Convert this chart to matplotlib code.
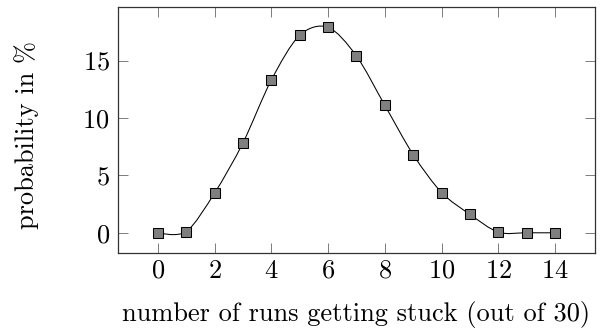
import matplotlib
matplotlib.use("Agg")
import matplotlib.pyplot as plt
import numpy as np
from matplotlib.path import Path
from matplotlib.patches import PathPatch

plt.rcParams["font.family"] = ["cmr10", "DejaVu Serif"]
plt.rcParams["mathtext.fontset"] = "cm"
plt.rcParams["axes.formatter.use_mathtext"] = True

runs_stuck = [0, 1, 2, 3, 4, 5, 6, 7, 8, 9, 10, 11, 12, 13, 14]
probability = [0.0, 0.1, 3.45, 7.82, 13.3, 17.2, 17.9, 15.4, 11.1, 6.8, 3.5, 1.6, 0.05, 0.0, 0.0]
x_ticks = [0, 2, 4, 6, 8, 10, 12, 14]
y_ticks = [0, 5, 10, 15]


def smooth_path(xs, ys, tension=0.55):
    # tikz "smooth": bezier segments, tangent parallel to p[i+1]-p[i-1]
    pts = np.column_stack([xs, ys]).astype(float)
    f = tension * 0.2775
    verts = [pts[0]]
    codes = [Path.MOVETO]
    n = len(pts)
    for i in range(n - 1):
        p0, p1 = pts[i], pts[i + 1]
        c1 = p0 if i == 0 else p0 + f * (pts[i + 1] - pts[i - 1])
        c2 = p1 if i == n - 2 else p1 - f * (pts[i + 2] - pts[i])
        verts += [c1, c2, p1]
        codes += [Path.CURVE4] * 3
    return Path(verts, codes)


fig = plt.figure(figsize=(6.06, 3.31), dpi=100)
ax = fig.add_axes([0.1947, 0.2347, 0.787, 0.745])

ax.add_patch(PathPatch(smooth_path(runs_stuck, probability), fill=False,
                       edgecolor="black", lw=0.75, zorder=2))
ax.plot(runs_stuck, probability, ls="none", marker="s", ms=7.6,
        mfc="#7f7f7f", mec="black", mew=0.75, zorder=3)

ax.set_xlim(-1.4, 15.4)
ymax = max(probability)
ax.set_ylim(-0.1 * ymax, 1.1 * ymax)
ax.set_xticks(x_ticks)
ax.set_yticks(y_ticks)
ax.tick_params(direction="in", length=7, width=0.6, color="#666666",
               top=True, right=True, labelsize=19)
ax.tick_params(axis="x", pad=4)
ax.tick_params(axis="y", pad=6)
for s in ax.spines.values():
    s.set_linewidth(0.9)
    s.set_color("#333333")

ax.set_xlabel("number of runs getting stuck (out of 30)", fontsize=19)
ax.set_ylabel("probability in %", fontsize=19)
ax.xaxis.set_label_coords(0.5, -0.195)
ax.yaxis.set_label_coords(-0.165, 0.48)

fig.savefig("out.png", dpi=100)
